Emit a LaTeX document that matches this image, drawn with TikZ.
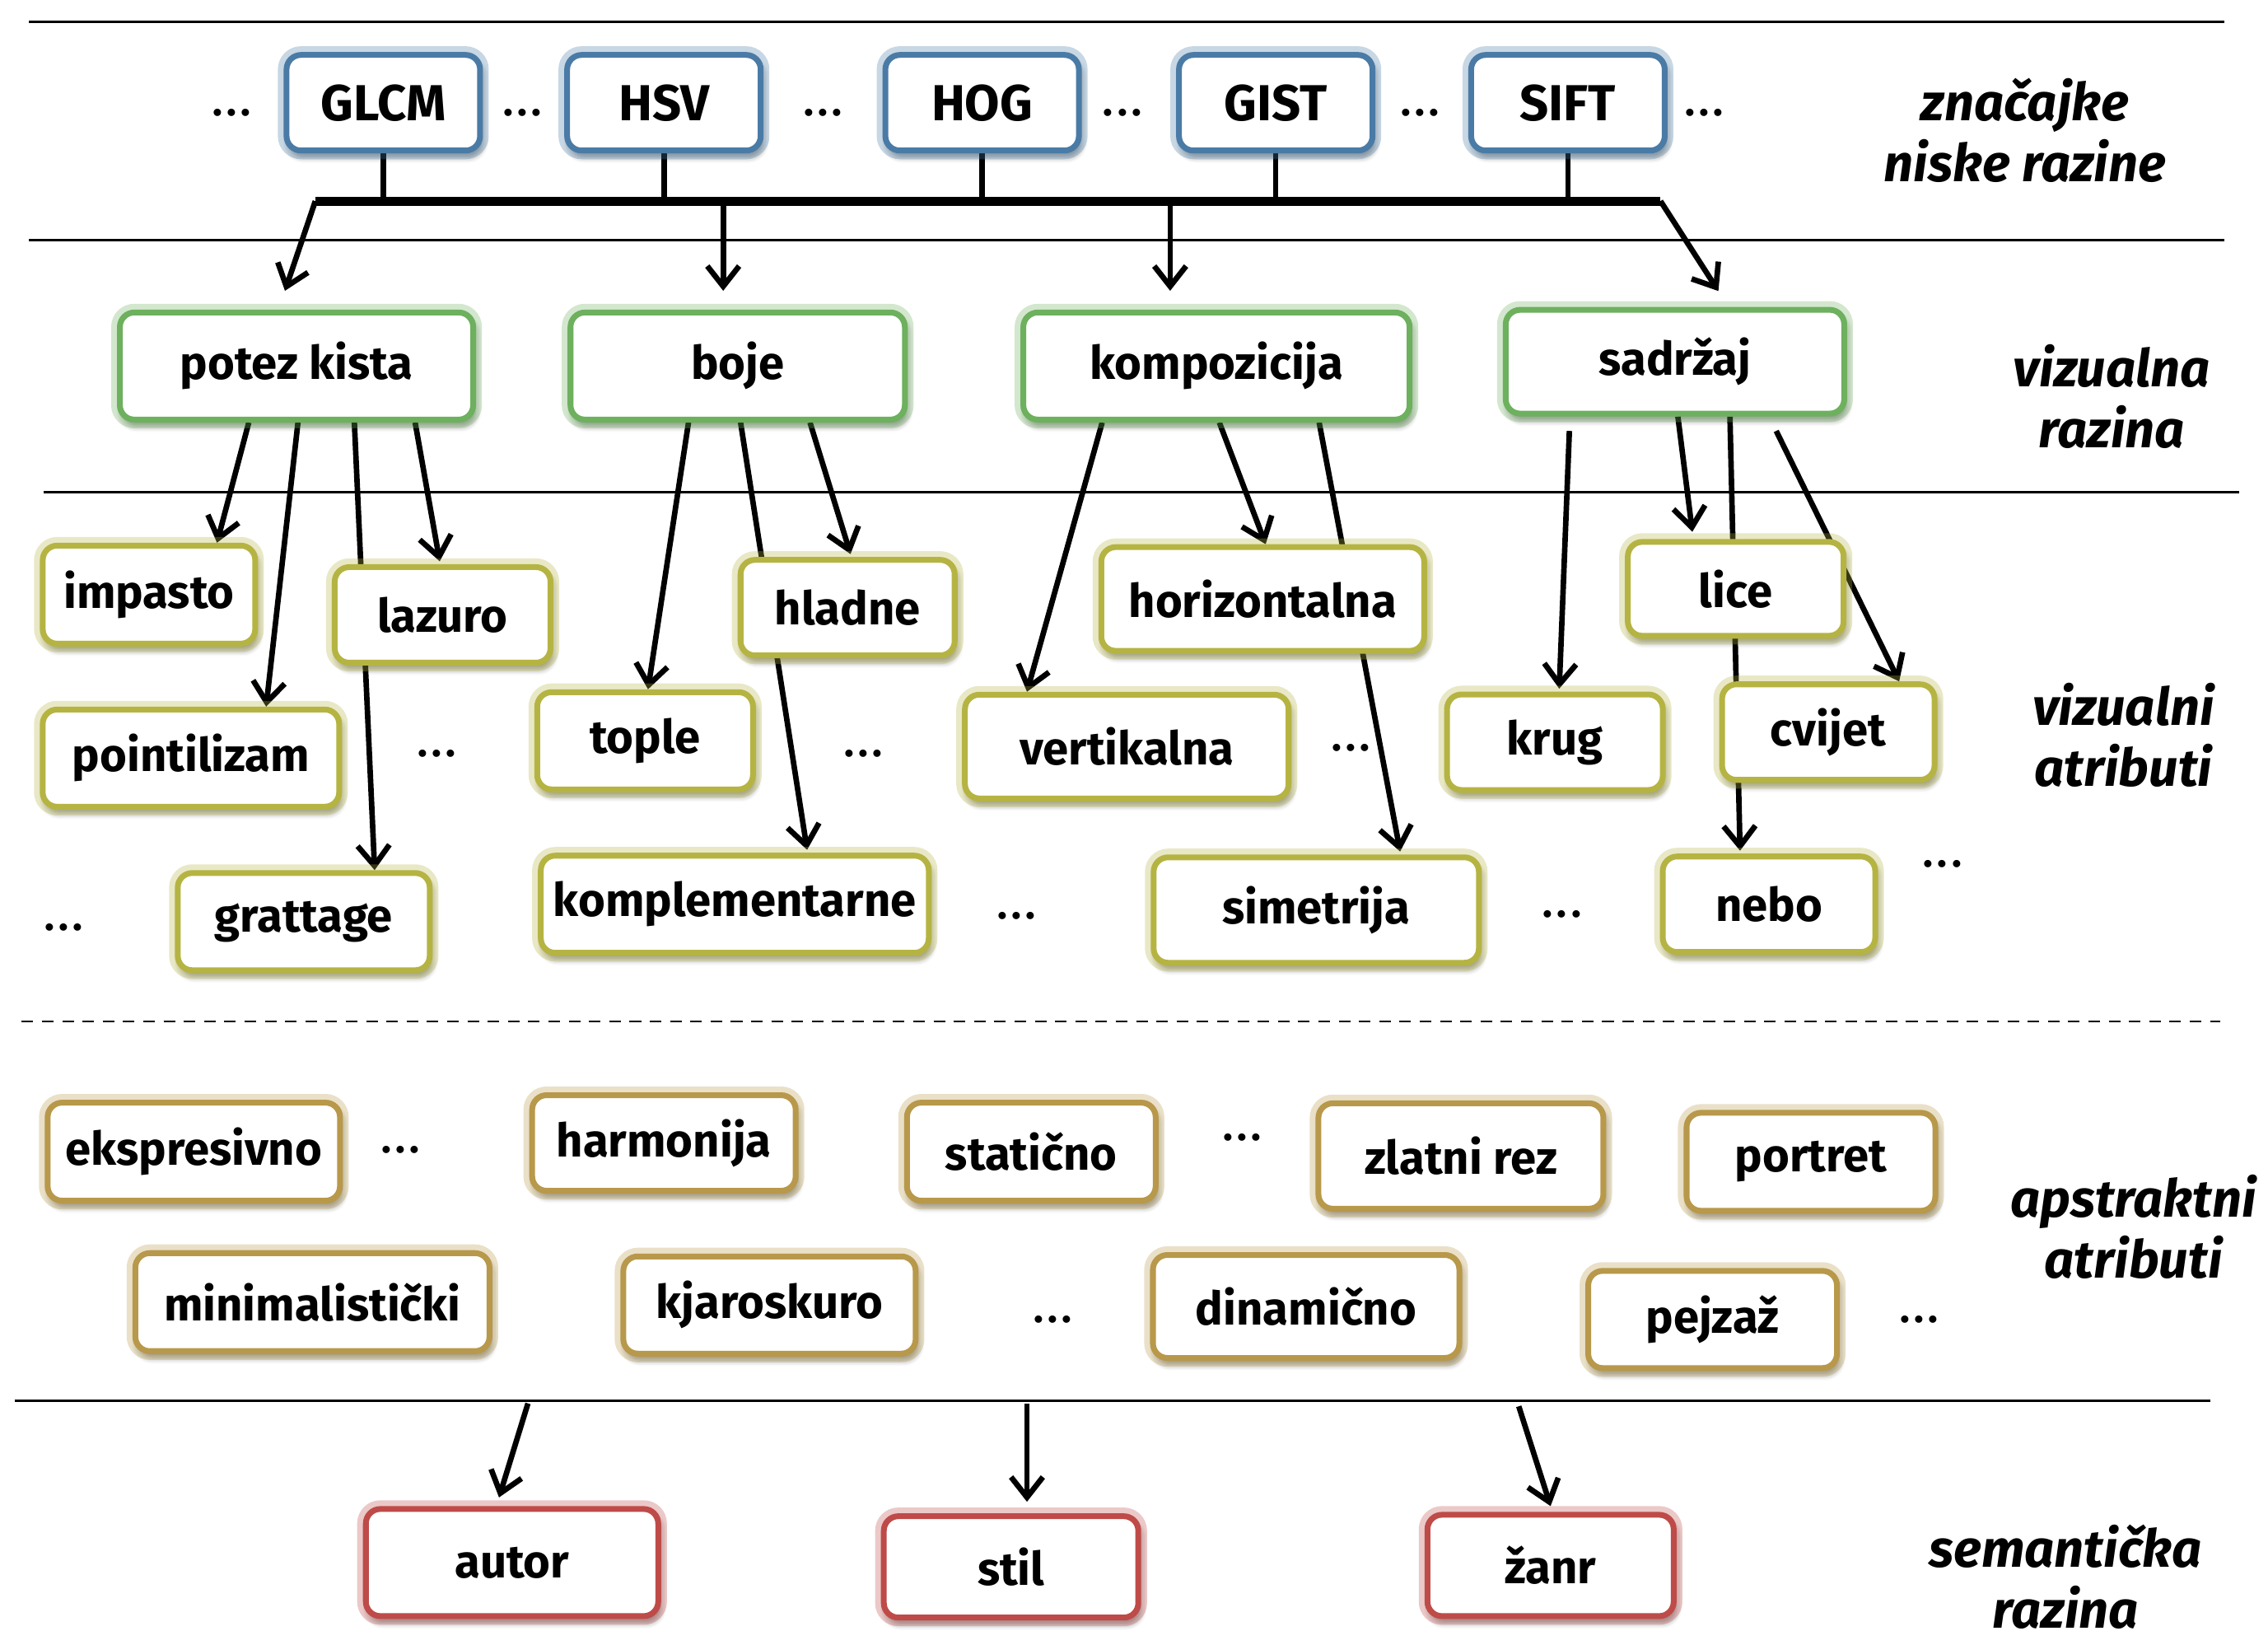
\documentclass[tikz,border=0pt]{standalone}
\usepackage{fontspec}
\setmainfont{Fira Sans}
\usetikzlibrary{arrows.meta,shadows.blur,backgrounds,calc}
\definecolor{cblue}{HTML}{4A7BA6}
\definecolor{cgreen}{HTML}{6DB05E}
\definecolor{cyel}{HTML}{B5B443}
\definecolor{cgold}{HTML}{B8984A}
\definecolor{cred}{HTML}{BE4B48}
\newcommand{\dd}{.\hspace{1.5pt}.\hspace{1.5pt}.}
\begin{document}
\begin{tikzpicture}[x=0.017564cm, y=-0.017564cm,
  box/.style={rounded corners=5pt, inner sep=0pt,
    font=\fontsize{16}{19}\selectfont\bfseries,
    blur shadow={shadow xshift=0.8pt, shadow yshift=-2.2pt, shadow blur steps=6, shadow opacity=45},
    preaction={draw=#1, draw opacity=0.3, line width=6pt},
    draw=#1, line width=2pt, fill=white},
  big/.style={font=\fontsize{17.5}{20}\selectfont\bfseries},
  wh/.style 2 args={minimum width=#1cm, minimum height=#2cm},
  arr/.style={line width=1.9pt, -{Straight Barb[length=7pt,width=11pt]}},
  stub/.style={line width=1.9pt},
  bus/.style={line width=3.2pt},
  sep/.style={line width=0.8pt},
  dots/.style={font=\fontsize{14}{16}\selectfont\bfseries, inner sep=0pt},
  lab/.style={font=\fontsize{18}{21}\selectfont\bfseries\itshape, align=center, inner sep=0pt},
]
\useasboundingbox (0,0) rectangle (1568,1127);

% ---------- top row (low level features)
\node[box=cblue, big, wh={2.35}{1.16}] (glcm) at (265,71) {GLCM};
\node[box=cblue, big, wh={2.35}{1.16}] (hsv)  at (459,71) {HSV};
\node[box=cblue, big, wh={2.35}{1.16}] (hog)  at (679,71) {HOG};
\node[box=cblue, big, wh={2.35}{1.16}] (gist) at (882,71) {GIST};
\node[box=cblue, big, wh={2.35}{1.16}] (sift) at (1084,71) {SIFT};
\node[dots] (t1) at (160,78) {\dd};
\node[dots] (t2) at (361,78) {\dd};
\node[dots] (t3) at (569,78) {\dd};
\node[dots] (t4) at (776,78) {\dd};
\node[dots] (t5) at (982,78) {\dd};
\node[dots] (t6) at (1178,78) {\dd};

% ---------- visual level
\node[box=cgreen, wh={4.29}{1.30}] (pk)   at (205,253) {potez kista};
\node[box=cgreen, wh={4.06}{1.30}] (boje) at (510,253) {boje};
\node[box=cgreen, wh={4.69}{1.30}] (komp) at (841,253) {kompozicija};
\node[box=cgreen, wh={4.11}{1.26}] (sad)  at (1158,250) {sadržaj};

% ---------- visual attributes
\node[box=cyel, wh={2.58}{1.19}] (imp)  at (103,411) {impasto};
\node[box=cyel, wh={2.62}{1.16}] (laz)  at (306,425) {lazuro};
\node[box=cyel, wh={3.60}{1.18}] (poi)  at (132,524) {pointilizam};
\node[box=cyel, wh={3.06}{1.18}] (grat) at (210,637) {grattage};
\node[box=cyel, wh={2.60}{1.16}] (hla)  at (586,420) {hladne};
\node[box=cyel, wh={2.62}{1.18}] (top)  at (446,512) {tople};
\node[box=cyel, wh={4.71}{1.18}] (kmpl) at (508,625) {komplementarne};
\node[box=cyel, wh={3.92}{1.26}] (hor)  at (873,414) {horizontalna};
\node[box=cyel, wh={3.93}{1.26}] (ver)  at (779,516) {vertikalna};
\node[box=cyel, wh={3.95}{1.28}] (sim)  at (910,629) {simetrija};
\node[box=cyel, wh={2.62}{1.14}] (lice) at (1200,407) {lice};
\node[box=cyel, wh={2.62}{1.16}] (krug) at (1075,513) {krug};
\node[box=cyel, wh={2.58}{1.16}] (cvi)  at (1264,506) {cvijet};
\node[box=cyel, wh={2.58}{1.16}] (nebo) at (1223,625) {nebo};
\node[dots] (v1) at (302,521) {\dd};
\node[dots] (v2) at (44,641) {\dd};
\node[dots] (v3) at (597,521) {\dd};
\node[dots] (v4) at (703,633) {\dd};
\node[dots] (v5) at (934,517) {\dd};
\node[dots] (v6) at (1080,632) {\dd};
\node[dots] (v7) at (1343,597) {\dd};

% ---------- abstract attributes
\node[box=cgold, wh={3.55}{1.19}] (eks)  at (134,796) {ekspresivno};
\node[box=cgold, wh={3.20}{1.16}] (harm) at (459,790) {harmonija};
\node[box=cgold, wh={3.02}{1.19}] (stat) at (713,796) {statično};
\node[box=cgold, wh={3.46}{1.28}] (zlat) at (1010,799) {zlatni rez};
\node[box=cgold, wh={3.02}{1.19}] (por)  at (1252,803) {portret};
\node[box=cgold, wh={4.30}{1.19}] (min)  at (216,900) {minimalistički};
\node[box=cgold, wh={3.55}{1.18}] (kja)  at (532,902) {kjaroskuro};
\node[box=cgold, wh={3.72}{1.25}] (din)  at (903,903) {dinamično};
\node[box=cgold, wh={3.02}{1.18}] (pej)  at (1184,912) {pejzaž};
\node[dots] (a1d) at (277,795) {\dd};
\node[dots] (a2d) at (859,786) {\dd};
\node[dots] (a3d) at (728,912) {\dd};
\node[dots] (a4d) at (1327,912) {\dd};

% ---------- semantic level
\node[box=cred, wh={3.55}{1.30}] (aut)  at (354,1080) {autor};
\node[box=cred, wh={3.09}{1.23}] (stil) at (699,1083) {stil};
\node[box=cred, wh={2.99}{1.23}] (zanr) at (1072,1082) {žanr};

% ---------- level labels
\node[lab] (l1) at (1400,90)   {značajke\\niske razine};
\node[lab] (l2) at (1460,274)  {vizualna\\razina};
\node[lab] (l3) at (1468,508)  {vizualni\\atributi};
\node[lab] (l4) at (1475,848)  {apstraktni\\atributi};
\node[lab] (l5) at (1428,1090) {semantička\\razina};

\begin{scope}[on background layer]
  % separators
  \draw[sep] (20,15) -- (1538,15);
  \draw[sep] (20,166) -- (1538,166);
  \draw[sep] (30,340) -- (1548,340);
  \draw[sep, dash pattern=on 4pt off 3pt] (15,706) -- (1535,706);
  \draw[sep] (10,968) -- (1528,968);

  % bus
  \coordinate (bL) at (218,139);
  \coordinate (bR) at (1148,139);
  \coordinate (b2) at (500,139);
  \coordinate (b3) at (809,139);
  \draw[bus] (bL) -- (bR);
  \foreach \n in {glcm,hsv,hog,gist,sift}
    \draw[stub] (\n.south) -- (\n.south |- bL);
  \draw[arr] (bL) -- ($(pk.north)+(-8,-13)$);
  \draw[arr] (b2) -- ($(boje.north)+(-10,-13)$);
  \draw[arr] (b3) -- ($(komp.north)+(-32,-13)$);
  \draw[arr] (bR) -- ($(sad.north)+(30,-11)$);

  % potez kista
  \draw[arr] ($(pk.south)+(-33,0)$) -- ($(imp.north)+(47,0)$);
  \draw[arr] ($(pk.south)+(1,0)$) -- ($(poi.north)+(52,0)$);
  \draw[arr] ($(pk.south)+(40,0)$) -- ($(grat.north)+(49,0)$);
  \draw[arr] ($(pk.south)+(82,0)$) -- ($(laz.north)+(-2,-2)$);
  % boje
  \draw[arr] ($(boje.south)+(-34,0)$) -- ($(top.north)+(2,0)$);
  \draw[arr] ($(boje.south)+(2,0)$) -- ($(kmpl.north)+(50,-2)$);
  \draw[arr] ($(boje.south)+(50,0)$) -- ($(hla.north)+(2,-2)$);
  % kompozicija
  \draw[arr] ($(komp.south)+(-79,0)$) -- ($(ver.north)+(-69,0)$);
  \draw[arr] ($(komp.south)+(2,0)$) -- ($(hor.north)+(2,0)$);
  \draw[arr] ($(komp.south)+(71,0)$) -- ($(sim.north)+(58,-2)$);
  % sadrzaj
  \draw[arr] ($(sad.south)+(-73,10)$) -- ($(krug.north)+(3,-2)$);
  \draw[arr] ($(sad.south)+(2,0)$) -- ($(lice.north)+(-30,-5)$);
  \draw[arr] ($(sad.south)+(38,0)$) -- ($(nebo.north)+(-20,-2)$);
  \draw[arr] ($(sad.south)+(70,10)$) -- ($(cvi.north)+(49,0)$);

  % to semantic level
  \coordinate (s1) at (365,970);
  \coordinate (s2) at (710,970);
  \coordinate (s3) at (1050,972);
  \draw[arr] (s1) -- ($(aut.north)+(-9,-6)$);
  \draw[arr] (s2) -- ($(stil.north)+(11,-8)$);
  \draw[arr] (s3) -- ($(zanr.north)+(0,-4)$);
\end{scope}
\end{tikzpicture}
\end{document}
